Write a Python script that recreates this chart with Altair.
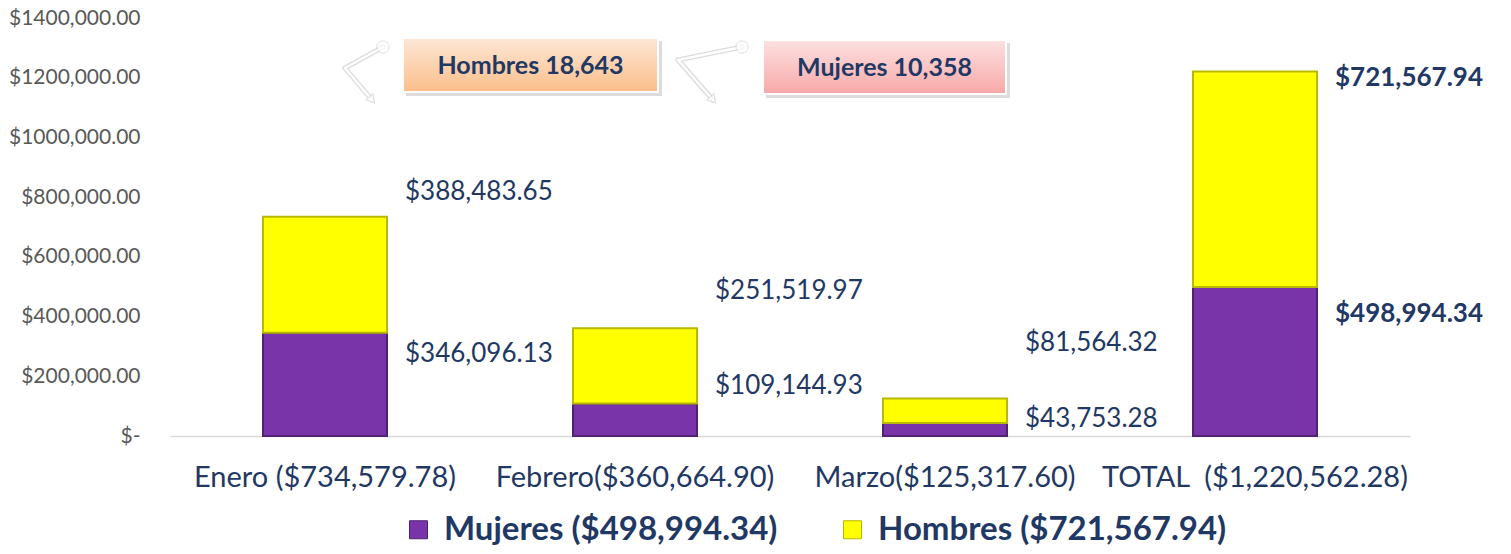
import altair as alt
import pandas as pd

# ---------------- data ----------------
categorias = ["Enero", "Febrero", "Marzo", "TOTAL"]
etiquetas_x = ["Enero ($734,579.78)", "Febrero($360,664.90)",
               "Marzo($125,317.60)", "TOTAL\u00a0 ($1,220,562.28)"]
mujeres = [346096.13, 109144.93, 43753.28, 498994.34]
hombres = [388483.65, 251519.97, 81564.32, 721567.94]
series = ["Mujeres", "Hombres"]
y_ticks = [0, 200000, 400000, 600000, 800000, 1000000, 1200000, 1400000]
callout_textos = ["Hombres 18,643", "Mujeres 10,358"]

# label layout (pixel offsets of each value label from its segment top)
dy_mujeres = [21, -17, -4, 27]
dy_hombres = [-25, -37, -56, 6]

NAVY = "#1F3864"
PURPLE = "#7834A8"
YELLOW = "#FFFF00"
FONT = "Lato"
PLOT_H = 418
Y_MAX = 1400000

rows = []
for i, cat in enumerate(categorias):
    lo = 0.0
    for s, vals, dys in (("Mujeres", mujeres, dy_mujeres), ("Hombres", hombres, dy_hombres)):
        v = vals[i]
        rows.append({
            "cat": etiquetas_x[i], "mes": cat, "serie": s, "valor": v,
            "lo": lo, "hi": lo + v, "dy": dys[i],
            "txt": "${:,.2f}".format(v),
        })
        lo += v
df = pd.DataFrame(rows)

tot_m = "${:,.2f}".format(mujeres[-1])
tot_h = "${:,.2f}".format(hombres[-1])
legend_expr = (f"datum.label == 'Mujeres' ? 'Mujeres ({tot_m})' : 'Hombres ({tot_h})'")

xscale = alt.Scale(paddingInner=0.6, paddingOuter=0.3)
yscale = alt.Scale(domain=[0, Y_MAX], nice=False)

bars = alt.Chart(df).mark_bar(strokeWidth=2).encode(
    x=alt.X("cat:N", sort=etiquetas_x, title=None, scale=xscale,
            axis=alt.Axis(labelAngle=0)),
    y=alt.Y("hi:Q", scale=yscale, title=None,
            axis=alt.Axis(values=y_ticks,
                          labelExpr="datum.value == 0 ? '$-   ' : '$' + format(datum.value/1000, 'd') + ',000.00'")),
    y2="lo:Q",
    color=alt.Color("serie:N", scale=alt.Scale(domain=series, range=[PURPLE, YELLOW]),
                    legend=alt.Legend(title=None, orient="none", legendX=232, legendY=495,
                                      direction="horizontal", symbolType="square",
                                      symbolSize=324, symbolStrokeColor="#555555",
                                      symbolStrokeWidth=1, labelFont=FONT,
                                      labelFontSize=33, labelFontWeight="bold",
                                      labelColor=NAVY, labelOffset=9,
                                      columnPadding=58, labelLimit=600,
                                      labelExpr=legend_expr)),
    stroke=alt.Stroke("serie:N", scale=alt.Scale(domain=series, range=["#4F2372", "#B8B800"]),
                      legend=None),
)

lab_base = alt.Chart(df).transform_calculate(
    ylab=f"datum.hi - datum.dy * {Y_MAX} / {PLOT_H}")

labels_reg = lab_base.transform_filter("datum.mes != 'TOTAL'").mark_text(
    align="left", baseline="middle", dx=80, font=FONT, fontSize=26, color=NAVY
).encode(x=alt.X("cat:N", sort=etiquetas_x), y=alt.Y("ylab:Q", scale=yscale),
         text="txt:N")

labels_tot = lab_base.transform_filter("datum.mes == 'TOTAL'").mark_text(
    align="left", baseline="middle", dx=80, font=FONT, fontSize=26, fontWeight="bold", color=NAVY
).encode(x=alt.X("cat:N", sort=etiquetas_x), y=alt.Y("ylab:Q", scale=yscale),
         text="txt:N")

one = alt.Data(values=[{}])


def callout(x1, x2, y1, y2, c_top, c_bot, texto):
    shadow = alt.Chart(one).mark_rect(color="#9A9A9A", opacity=0.35).encode(
        x=alt.value(x1 + 3), x2=alt.value(x2 + 4), y=alt.value(y1 + 3), y2=alt.value(y2 + 4))
    box = alt.Chart(one).mark_rect(
        color=alt.Gradient(gradient="linear",
                           stops=[alt.GradientStop(color=c_top, offset=0),
                                  alt.GradientStop(color=c_bot, offset=1)],
                           x1=0, x2=0, y1=0, y2=1),
        stroke="white", strokeWidth=2).encode(
        x=alt.value(x1), x2=alt.value(x2), y=alt.value(y1), y2=alt.value(y2))
    txt = alt.Chart(one).mark_text(font=FONT, fontSize=25, fontWeight="bold", color=NAVY,
                                   align="center", baseline="middle").encode(
        x=alt.value((x1 + x2) / 2), y=alt.value((y1 + y2) / 2 + 1), text=alt.value(texto))
    return shadow + box + txt


def arrow(cx, cy, ex, ey, tx, ty, ang):
    layers = []
    for col, w in (("#DCDCDC", 5), ("white", 2.5)):
        layers.append(alt.Chart(one).mark_rule(color=col, strokeWidth=w, strokeCap="round").encode(
            x=alt.value(cx), y=alt.value(cy), x2=alt.value(ex), y2=alt.value(ey)))
        layers.append(alt.Chart(one).mark_rule(color=col, strokeWidth=w, strokeCap="round").encode(
            x=alt.value(ex), y=alt.value(ey), x2=alt.value(tx), y2=alt.value(ty)))
    head = alt.Chart(one).mark_point(shape="triangle-up", filled=True, fill="white",
                                     stroke="#D4D4D4", strokeWidth=1, size=90).encode(
        x=alt.value(tx), y=alt.value(ty), angle=alt.value(ang))
    dot = alt.Chart(one).mark_point(filled=True, fill="white", stroke="#D4D4D4",
                                    strokeWidth=1, size=150).encode(
        x=alt.value(cx), y=alt.value(cy))
    return alt.layer(*layers, head, dot)


c1 = callout(233, 488, 20, 74, "#FDE7D6", "#FBBE8A", callout_textos[0])
c2 = callout(593, 836, 22, 76, "#FDE1E1", "#F8A8A8", callout_textos[1])
a1 = arrow(213, 29, 175, 50, 202, 82, 140)
a2 = arrow(572, 29, 508, 42, 543, 82, 139)

chart = alt.layer(bars, labels_reg, labels_tot, a1, a2, c1, c2).properties(
    width=1240, height=PLOT_H,
    autosize=alt.AutoSizeParams(type="none"),
    padding={"left": 162, "top": 10, "right": 93, "bottom": 110},
).configure(background="white").configure_view(stroke=None).configure_axisX(
    labelFont=FONT, labelFontSize=29, labelColor=NAVY, labelPadding=27,
    ticks=False, domainColor="#D9D9D9", domainWidth=1.5, labelLimit=600, grid=False,
).configure_axisY(
    labelFont=FONT, labelFontSize=21, labelColor="#595959", labelPadding=30,
    ticks=False, domain=False, grid=False, labelLimit=300,
)

chart.save("out.html", embed_options={"renderer": "svg", "actions": False})
